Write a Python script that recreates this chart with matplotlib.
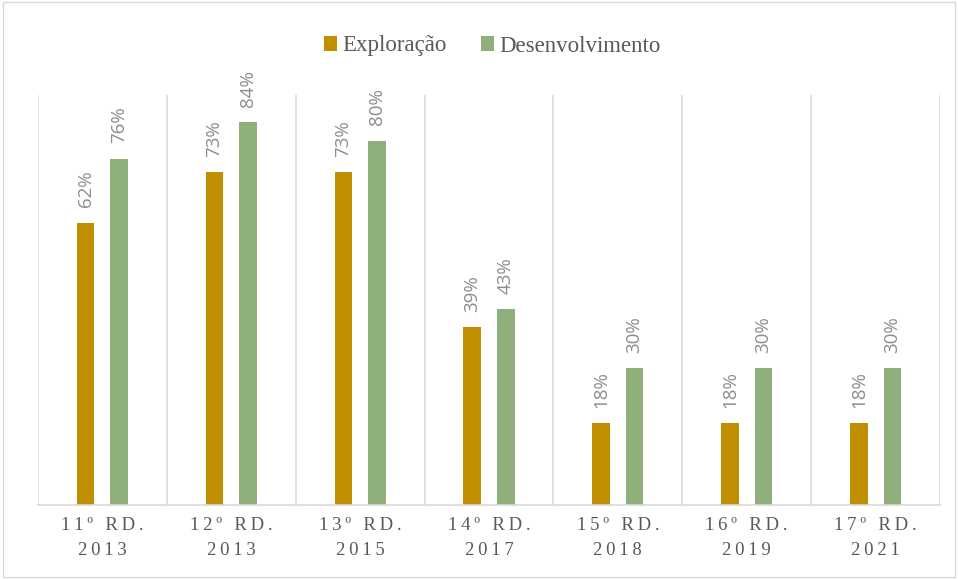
import matplotlib.pyplot as plt
import numpy as np
from matplotlib.patches import Rectangle

categories = ['11º RD.\n2013', '12º RD.\n2013', '13º RD.\n2015', '14º RD.\n2017',
              '15º RD.\n2018', '16º RD.\n2019', '17º RD.\n2021']
exploracao = [62, 73, 73, 39, 18, 18, 18]
desenvolvimento = [76, 84, 80, 43, 30, 30, 30]

gold = '#bf8f00'
green = '#8faf7a'
grid_col = '#d9d9d9'
txt_col = '#595959'

def spaced(s):
    # imitate the wide letter spacing of the axis labels
    return '\n'.join('\u2009'.join(list(line)) for line in s.split('\n'))

fig = plt.figure(figsize=(9.58, 5.79), dpi=100)
ax = fig.add_axes([38/958, 1-505/579, (940-38)/958, (505-95)/579])

x = np.arange(len(categories))
w = 0.136
off = 0.13
b1 = ax.bar(x - off, exploracao, w, color=gold, label='Exploração')
b2 = ax.bar(x + off, desenvolvimento, w, color=green, label='Desenvolvimento')

for bars, vals in [(b1, exploracao), (b2, desenvolvimento)]:
    for r, v in zip(bars, vals):
        ax.annotate(f'{v}%', (r.get_x() + r.get_width()/2, v), xytext=(0, 11),
                    textcoords='offset points', rotation=90, ha='center', va='bottom',
                    fontsize=13.5, color='#8c8c8c', family='Open Sans')

ax.set_xlim(-0.5, len(categories) - 0.5)
ax.set_ylim(0, 90)
for b in np.arange(-0.5, len(categories)):
    ax.axvline(b, color=grid_col, lw=1.2, zorder=0)
ax.set_xticks(x)
ax.set_xticklabels([spaced(c) for c in categories], family='Liberation Serif',
                   fontsize=13.5, color=txt_col, linespacing=1.6)
ax.tick_params(axis='x', length=0, pad=9)
ax.set_yticks([])
for s in ['top', 'right', 'left']:
    ax.spines[s].set_visible(False)
ax.spines['bottom'].set_color(grid_col)
ax.spines['bottom'].set_linewidth(1.2)

fig.legend(loc='center', bbox_to_anchor=(492/958, 1-46/579), ncol=2, frameon=False,
           prop={'family': 'Liberation Serif', 'size': 16.5}, labelcolor=txt_col,
           handlelength=0.6, handleheight=0.6, handletextpad=0.2, columnspacing=1.5)

fig.patches.append(Rectangle((0.003, 0.003), 0.994, 0.994, transform=fig.transFigure,
                             fill=False, edgecolor='#d9d9d9', lw=1))

plt.savefig('out.png', dpi=100)
